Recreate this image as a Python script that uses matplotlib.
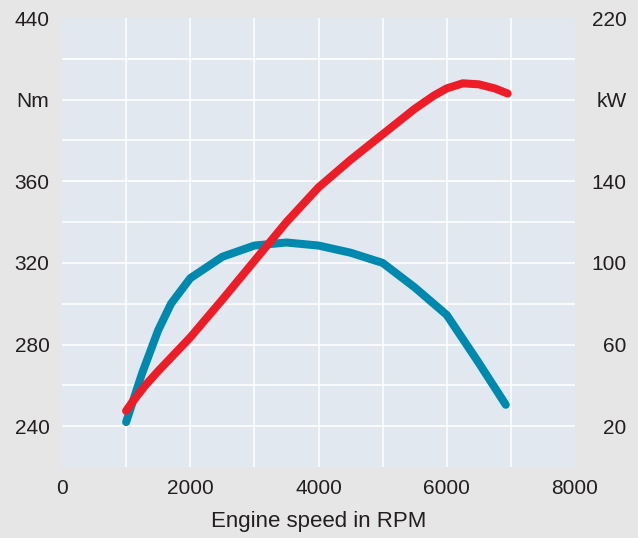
"""
Engine performance chart: torque (Nm, left) and power (kW, right) vs engine speed
"""
import matplotlib
matplotlib.use("Agg")
import matplotlib.pyplot as plt

plt.rcParams["font.family"] = ["Liberation Sans", "DejaVu Sans"]

# ── data ───────────────────────────────────────────────────────────────────
torque_rpm = [1000, 1250, 1500, 1700, 2000, 2500, 3000, 3500, 4000, 4500, 5000, 5500, 6000, 6500, 6920]
torque_nm = [242, 266, 287, 300, 312.5, 323, 328.5, 330, 328.5, 325, 320, 308, 294.5, 271, 250.5]

power_rpm = [1000, 1100, 1300, 1500, 2000, 2500, 3000, 3500, 4000, 4500, 5000, 5500, 5800, 6000, 6250, 6500, 6750, 6950]
power_kw = [27.5, 32, 40, 47, 63.5, 82, 101, 120, 137, 150.5, 163, 175.5, 182, 185.5, 188, 187.5, 185.5, 183]

x_ticks = [0, 2000, 4000, 6000, 8000]
nm_ticks = [240, 280, 320, 360, 400, 440]
nm_labels = ["240", "280", "320", "360", "Nm", "440"]
kw_ticks = [20, 60, 100, 140, 180, 220]
kw_labels = ["20", "60", "100", "140", "kW", "220"]

TEAL = "#0089ae"
RED = "#ee1c27"
TEXT = "#231f20"

fig = plt.figure(figsize=(6.38, 5.38), dpi=100, facecolor="#e6e6e6")
ax = fig.add_axes([62 / 638, 71 / 538, 513 / 638, 449 / 538])
ax.set_facecolor("#e1e8ef")
ax2 = ax.twinx()

ax.set_xlim(0, 8000)
ax.set_ylim(220, 440)
ax2.set_ylim(0, 220)

# grid: white lines every 1000 rpm / 20 Nm (inner lines only)
ax.xaxis.remove_overlapping_locs = False
ax.yaxis.remove_overlapping_locs = False
ax.set_xticks(x_ticks)
ax.set_xticks(range(1000, 8000, 1000), minor=True)
ax.set_yticks(nm_ticks)
ax.set_yticklabels(nm_labels)
ax.set_yticks(range(240, 440, 20), minor=True)
ax.grid(which="minor", color="white", linewidth=1.1)
ax.grid(which="major", visible=False)
ax.set_axisbelow(True)

ax.plot(torque_rpm, torque_nm, color=TEAL, linewidth=5.8, solid_capstyle="round", zorder=3)
ax2.plot(power_rpm, power_kw, color=RED, linewidth=5.8, solid_capstyle="round", zorder=3)

for a in (ax, ax2):
    for s in a.spines.values():
        s.set_visible(False)

ax.tick_params(which="both", length=0, labelsize=15, labelcolor=TEXT)
ax.tick_params(axis="y", pad=9)
ax.tick_params(axis="x", pad=9)

ax2.set_yticks(kw_ticks)
ax2.set_yticklabels(kw_labels)
ax2.tick_params(length=0, labelsize=15, labelcolor=TEXT, pad=37)
for lbl in ax2.get_yticklabels():
    lbl.set_horizontalalignment("right")

ax.set_xlabel("Engine speed in RPM", fontsize=16, color=TEXT, labelpad=9)

fig.savefig("out.png", dpi=100, facecolor=fig.get_facecolor())
